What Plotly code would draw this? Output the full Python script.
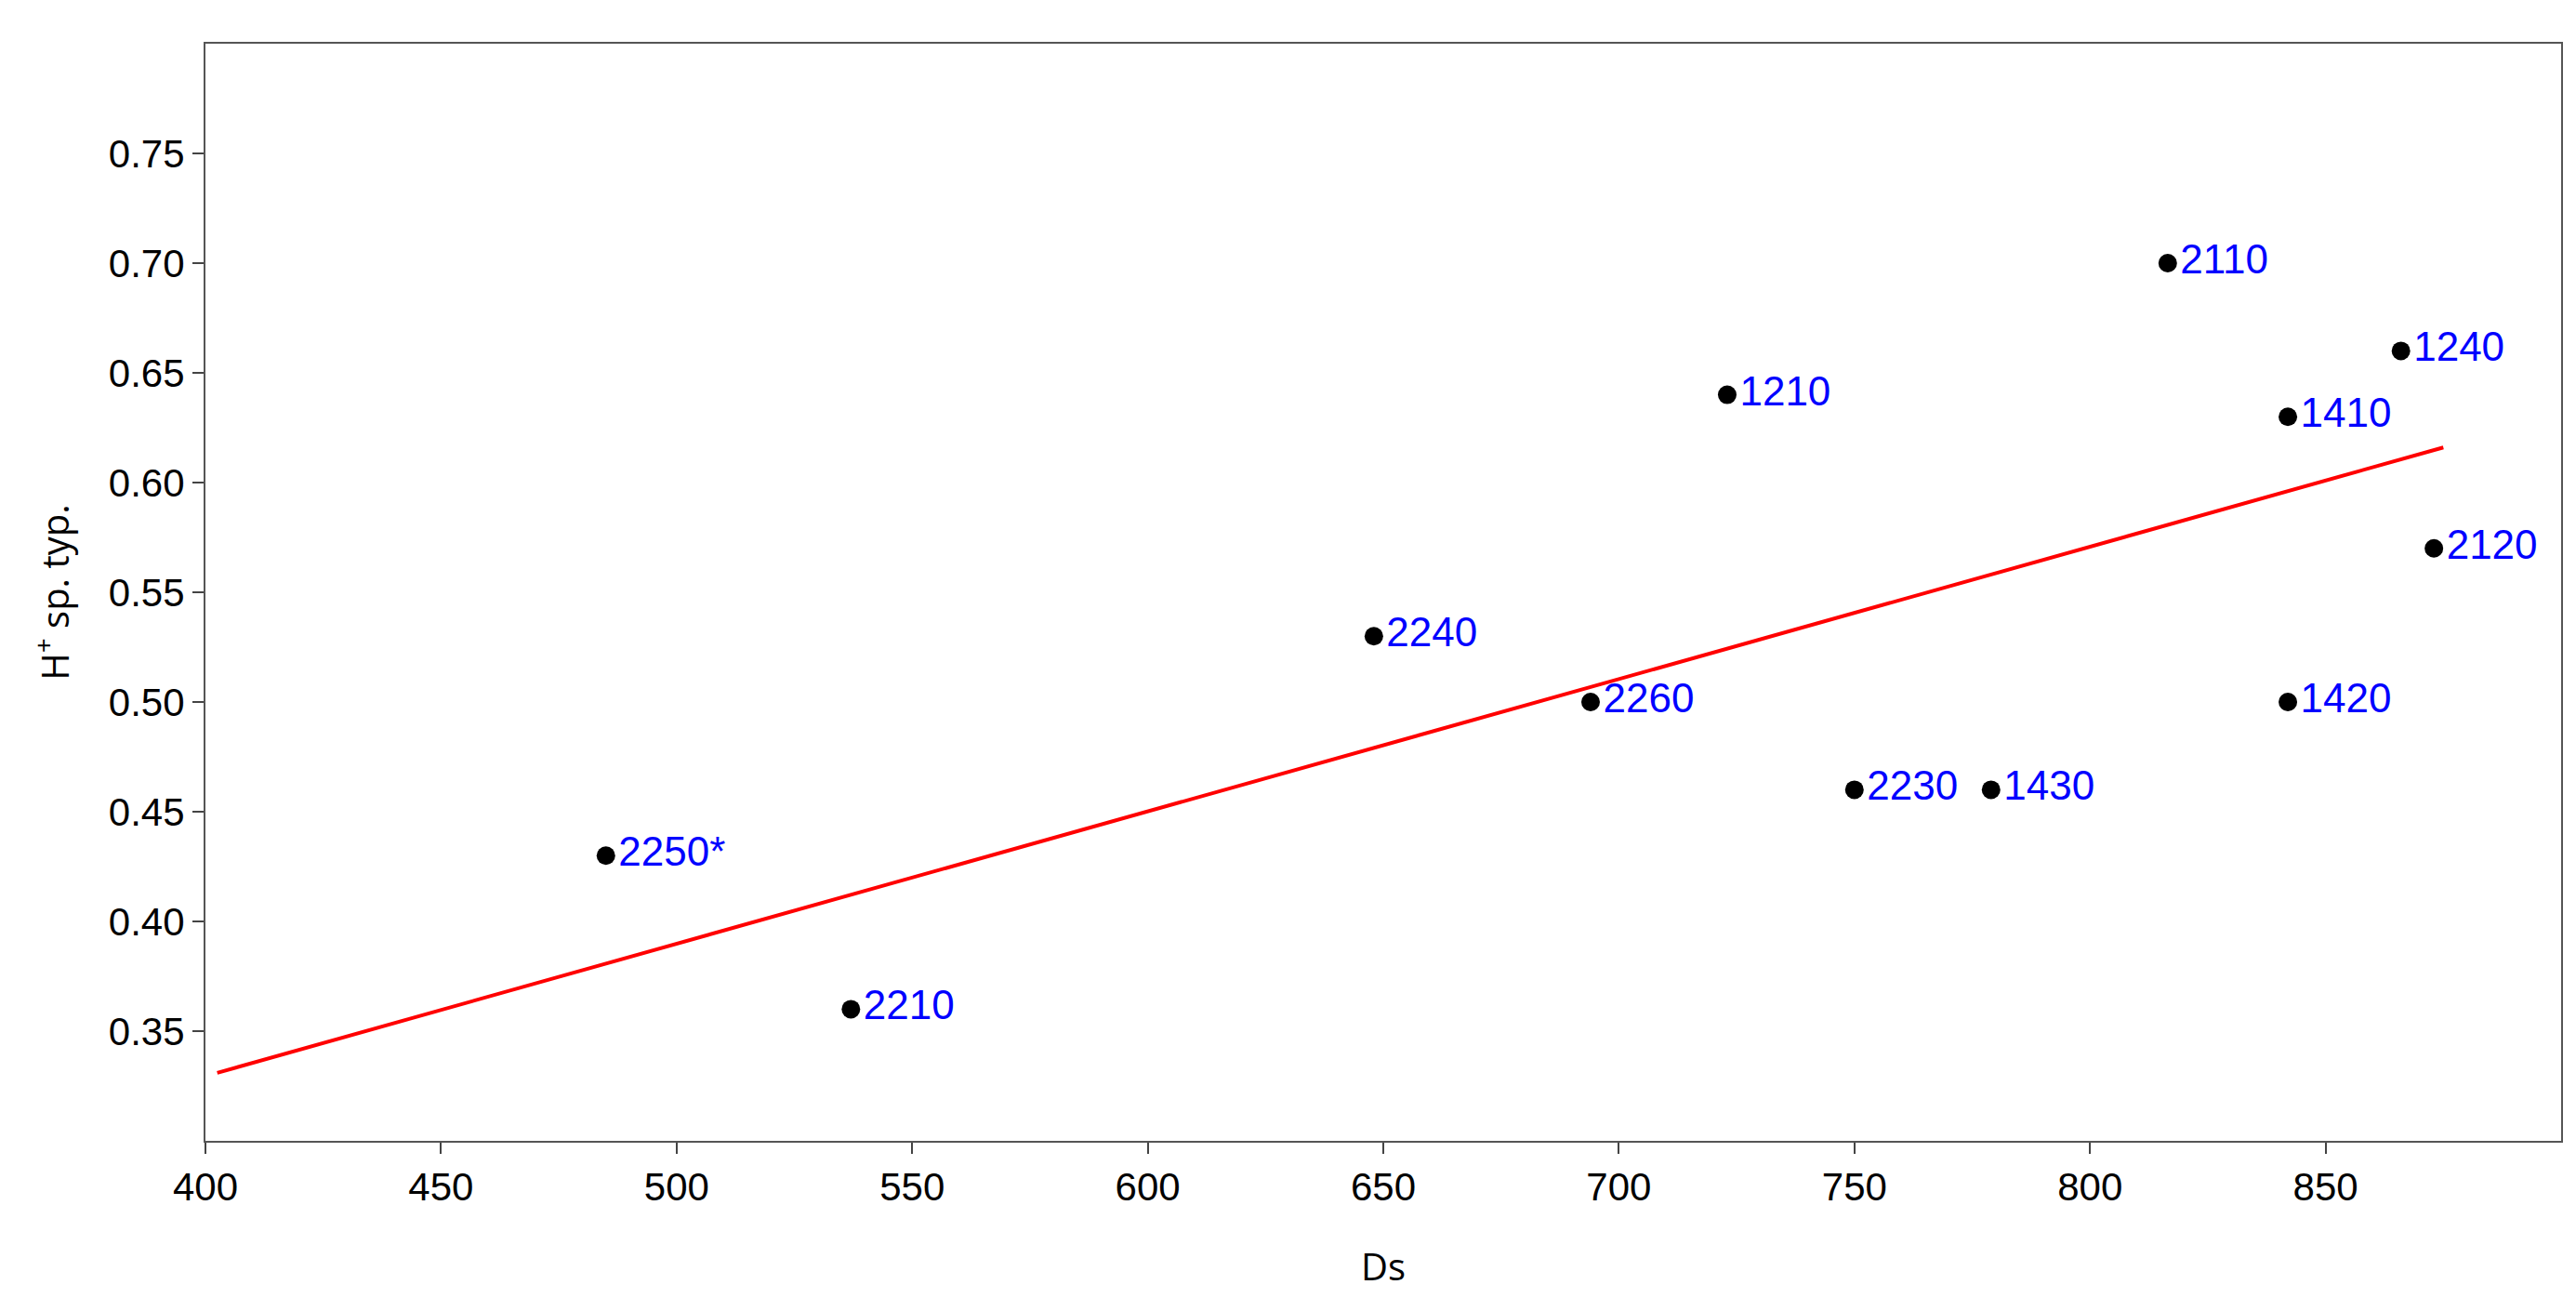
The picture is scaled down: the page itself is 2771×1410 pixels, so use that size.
import plotly.graph_objects as go

ds = [485, 537, 648, 694, 723, 750, 779, 816.5, 842, 842, 866, 873]
hsp = [0.43, 0.36, 0.53, 0.50, 0.64, 0.46, 0.46, 0.70, 0.63, 0.50, 0.66, 0.57]
labels = ["2250*", "2210", "2240", "2260", "1210", "2230", "1430", "2110", "1410", "1420", "1240", "2120"]
fit_x = [402.5, 875]
fit_y = [0.331, 0.616]
xticks = list(range(400, 851, 50))
yticks = [0.35, 0.40, 0.45, 0.50, 0.55, 0.60, 0.65, 0.70, 0.75]

fig = go.Figure()
fig.add_trace(go.Scatter(x=fit_x, y=fit_y, mode="lines", line=dict(color="#ff0000", width=4), showlegend=False))
fig.add_trace(go.Scatter(x=ds, y=hsp, mode="markers+text", text=labels, textposition="middle right",
                         marker=dict(color="black", size=20),
                         textfont=dict(color="#0000ff", size=44, family="Liberation Sans"), showlegend=False))
fig.update_layout(
    width=2771, height=1410, plot_bgcolor="white", paper_bgcolor="white",
    margin=dict(l=213, r=24, t=39, b=191),
    font=dict(family="Liberation Sans", size=42, color="black"),
)
fig.update_xaxes(range=[400, 900], tickvals=xticks, ticks="outside", ticklen=12, tickwidth=2,
                 showgrid=False, zeroline=False, showline=True, linecolor="#555", linewidth=2, mirror=True,
                 title=dict(text="Ds", font=dict(family="Open Sans", size=40), standoff=50))
fig.update_yaxes(range=[0.30, 0.80], tickvals=yticks, tickformat=".2f", ticks="outside", ticklen=12, tickwidth=2,
                 showgrid=False, zeroline=False, showline=True, linecolor="#555", linewidth=2, mirror=True,
                 title=dict(text="H<sup>+</sup> sp. typ.", font=dict(family="Open Sans", size=40), standoff=30))
fig.write_html("out.html")
